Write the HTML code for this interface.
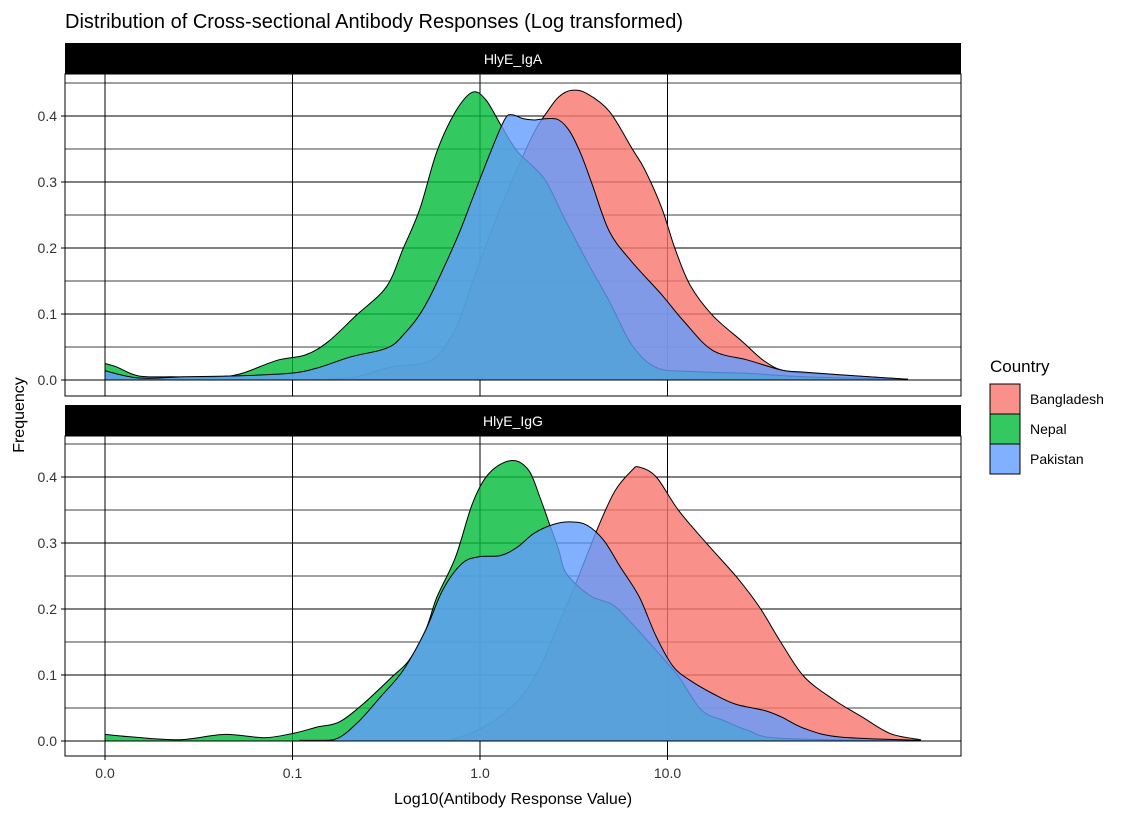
<!DOCTYPE html>
<html><head><meta charset="utf-8">
<style>
body{margin:0;background:#fff;font-family:"Liberation Sans",Arial,sans-serif;}
svg text{font-family:"Liberation Sans",Arial,sans-serif;}
</style></head>
<body>
<svg id="chart" width="1133" height="815" xmlns="http://www.w3.org/2000/svg">
<text x="65" y="28" font-size="20" fill="#000">Distribution of Cross-sectional Antibody Responses (Log transformed)</text>
<text x="513" y="804" font-size="16" text-anchor="middle" fill="#000">Log10(Antibody Response Value)</text>
<text x="0" y="0" font-size="16" text-anchor="middle" fill="#000" transform="translate(24,415) rotate(-90)">Frequency</text>
<g id="panels"></g>
<g id="legend">
<text x="990" y="372" font-size="17">Country</text>
</g>
</svg>
<script>
const countries = ["Bangladesh","Nepal","Pakistan"];
const colors = ["#F8766D","#00BA38","#619CFF"];
const panelNames = ["HlyE_IgA","HlyE_IgG"];
const xTickVals = [-2,-1,0,1];
const xTickLabels = ["0.0","0.1","1.0","10.0"];
const yTickVals = [0,0.1,0.2,0.3,0.4];
const yTickLabels = ["0.0","0.1","0.2","0.3","0.4"];

const igaBangladeshX = [-0.81,-0.66,-0.47,-0.26,-0.13,-0.04,0.08,0.20,0.29,0.36,0.42,0.49,0.57,0.69,0.81,0.88,0.97,1.04,1.12,1.24,1.40,1.52,1.64,1.89,2.28];
const igaBangladeshY = [0.001,0.005,0.020,0.030,0.078,0.149,0.240,0.321,0.376,0.407,0.429,0.439,0.434,0.407,0.351,0.318,0.260,0.199,0.144,0.098,0.058,0.028,0.013,0.008,0.001];
const igaNepalX = [-2.00,-1.94,-1.82,-1.64,-1.39,-1.27,-1.08,-0.93,-0.81,-0.66,-0.50,-0.41,-0.32,-0.23,-0.13,-0.04,0.03,0.11,0.20,0.34,0.45,0.57,0.69,0.81,0.94,1.12,1.43,1.73,2.28];
const igaNepalY = [0.025,0.020,0.006,0.005,0.005,0.010,0.030,0.038,0.058,0.098,0.141,0.199,0.260,0.346,0.407,0.436,0.425,0.387,0.346,0.306,0.245,0.180,0.119,0.053,0.019,0.013,0.010,0.005,0.001];
const igaPakistanX = [-2.00,-1.82,-1.57,-1.33,-1.02,-0.87,-0.69,-0.50,-0.41,-0.29,-0.13,-0.04,0.05,0.13,0.17,0.23,0.29,0.36,0.42,0.48,0.54,0.60,0.69,0.81,0.97,1.09,1.24,1.43,1.61,1.73,1.92,2.28];
const igaPakistanY = [0.014,0.003,0.005,0.006,0.010,0.018,0.035,0.048,0.068,0.114,0.210,0.275,0.341,0.394,0.402,0.396,0.394,0.396,0.394,0.376,0.341,0.295,0.225,0.179,0.129,0.088,0.045,0.030,0.015,0.012,0.008,0.001];

const iggBangladeshX = [-0.17,0.02,0.20,0.32,0.42,0.51,0.63,0.72,0.81,0.85,0.94,1.06,1.21,1.37,1.49,1.61,1.73,1.89,2.04,2.19,2.35];
const iggBangladeshY = [0.000,0.021,0.061,0.112,0.178,0.238,0.324,0.379,0.410,0.415,0.400,0.349,0.299,0.248,0.203,0.147,0.097,0.062,0.036,0.011,0.002];
const iggNepalX = [-2.00,-1.85,-1.60,-1.36,-1.15,-0.99,-0.87,-0.75,-0.62,-0.47,-0.38,-0.29,-0.23,-0.13,-0.04,0.05,0.17,0.26,0.32,0.37,0.42,0.45,0.51,0.60,0.71,0.81,0.94,1.06,1.18,1.30,1.43,1.61,2.35];
const iggNepalY = [0.010,0.006,0.002,0.010,0.005,0.012,0.021,0.029,0.057,0.097,0.122,0.168,0.218,0.279,0.360,0.406,0.425,0.410,0.369,0.329,0.289,0.259,0.238,0.218,0.206,0.178,0.137,0.097,0.047,0.031,0.016,0.004,0.000];
const iggPakistanX = [-0.96,-0.78,-0.66,-0.53,-0.41,-0.29,-0.20,-0.10,-0.01,0.11,0.20,0.29,0.39,0.48,0.57,0.66,0.75,0.85,0.94,1.03,1.12,1.24,1.36,1.52,1.61,1.73,1.92,2.35];
const iggPakistanY = [0.001,0.002,0.026,0.067,0.107,0.168,0.228,0.268,0.279,0.281,0.294,0.315,0.328,0.332,0.327,0.304,0.263,0.218,0.158,0.113,0.092,0.072,0.056,0.046,0.036,0.019,0.006,0.001];

const seriesX = [[igaBangladeshX,igaNepalX,igaPakistanX],[iggBangladeshX,iggNepalX,iggPakistanX]];
const seriesY = [[igaBangladeshY,igaNepalY,igaPakistanY],[iggBangladeshY,iggNepalY,iggPakistanY]];

const NS="http://www.w3.org/2000/svg";
const L=65,R=961;
const panelTops=[74,436], panelH=[322,320], zeroY=[380,741];
const sx=v=>480+v*187.5;
function mk(tag,attrs,parent){const e=document.createElementNS(NS,tag);for(const k in attrs)e.setAttribute(k,attrs[k]);parent.appendChild(e);return e;}
function smoothPath(pts,base){
  let d='M'+pts[0][0].toFixed(1)+','+base.toFixed(1)+' L'+pts[0][0].toFixed(1)+','+pts[0][1].toFixed(1);
  for(let i=0;i<pts.length-1;i++){
    const p0=pts[Math.max(0,i-1)],p1=pts[i],p2=pts[i+1],p3=pts[Math.min(pts.length-1,i+2)];
    const c1x=p1[0]+(p2[0]-p0[0])/6, c1y=Math.min(base,p1[1]+(p2[1]-p0[1])/6);
    const c2x=p2[0]-(p3[0]-p1[0])/6, c2y=Math.min(base,p2[1]-(p3[1]-p1[1])/6);
    d+=' C'+c1x.toFixed(1)+','+c1y.toFixed(1)+' '+c2x.toFixed(1)+','+c2y.toFixed(1)+' '+p2[0].toFixed(1)+','+p2[1].toFixed(1);
  }
  d+=' L'+pts[pts.length-1][0].toFixed(1)+','+base.toFixed(1)+' Z';
  return d;
}
const root=document.getElementById('panels');
panelNames.forEach((pn,p)=>{
  const sy=v=>zeroY[p]-v*660;
  const g=mk('g',{},root);
  
  
  const top=panelTops[p];
  const strip=mk('rect',{x:L,y:top-31,width:R-L,height:31,fill:'#000'},g);
  
  
  const st=mk('text',{x:(L+R)/2,y:top-10,'font-size':14,fill:'#fff','text-anchor':'middle'},g);
  st.textContent=pn;
  
  
  for(let v=0;v<=0.451;v+=0.05){
    const y=sy(v);
    const gl=mk('line',{x1:L,x2:R,y1:y,y2:y,stroke:'#000','stroke-width':(Math.round(v*100)%10===0)?1:0.7},g);
    
    
  }
  xTickVals.forEach(v=>{
    const gl=mk('line',{x1:sx(v),x2:sx(v),y1:top,y2:top+panelH[p],stroke:'#000','stroke-width':1},g);
    
    
  });
  countries.forEach((c,i)=>{
    const xs=seriesX[p][i], ys=seriesY[p][i];
    const pts=xs.map((x,k)=>[sx(x),sy(ys[k])]);
    const a=mk('path',{d:smoothPath(pts,sy(0)),fill:colors[i],'fill-opacity':0.8,stroke:'#000','stroke-width':1,'stroke-linejoin':'round'},g);
    
    
  });
  const br=mk('rect',{x:L,y:top,width:R-L,height:panelH[p],fill:'none',stroke:'#000','stroke-width':1},g);
  
  
  yTickVals.forEach((v,k)=>{
    const t=mk('text',{x:L-8,y:sy(v)+5,'font-size':14,fill:'#333','text-anchor':'end'},g);
    t.textContent=yTickLabels[k];
    
    
    mk('line',{x1:L-4,x2:L,y1:sy(v),y2:sy(v),stroke:'#000'},g);
  });
});
xTickVals.forEach((v,k)=>{
  mk('line',{x1:sx(v),x2:sx(v),y1:756,y2:760,stroke:'#000'},root);
  const t=mk('text',{x:sx(v),y:778,'font-size':14,fill:'#333','text-anchor':'middle'},root);
  t.textContent=xTickLabels[k];
  
  
});
const lg=document.getElementById('legend');
countries.forEach((c,i)=>{
  const y=384+i*30;
  const r=mk('rect',{x:990,y:y,width:30,height:30,fill:colors[i],'fill-opacity':0.8,stroke:'#000','stroke-width':1},lg);
  
  
  const t=mk('text',{x:1030,y:y+20,'font-size':14,fill:'#000'},lg);
  t.textContent=c;
  
  
});
</script>
</body></html>
